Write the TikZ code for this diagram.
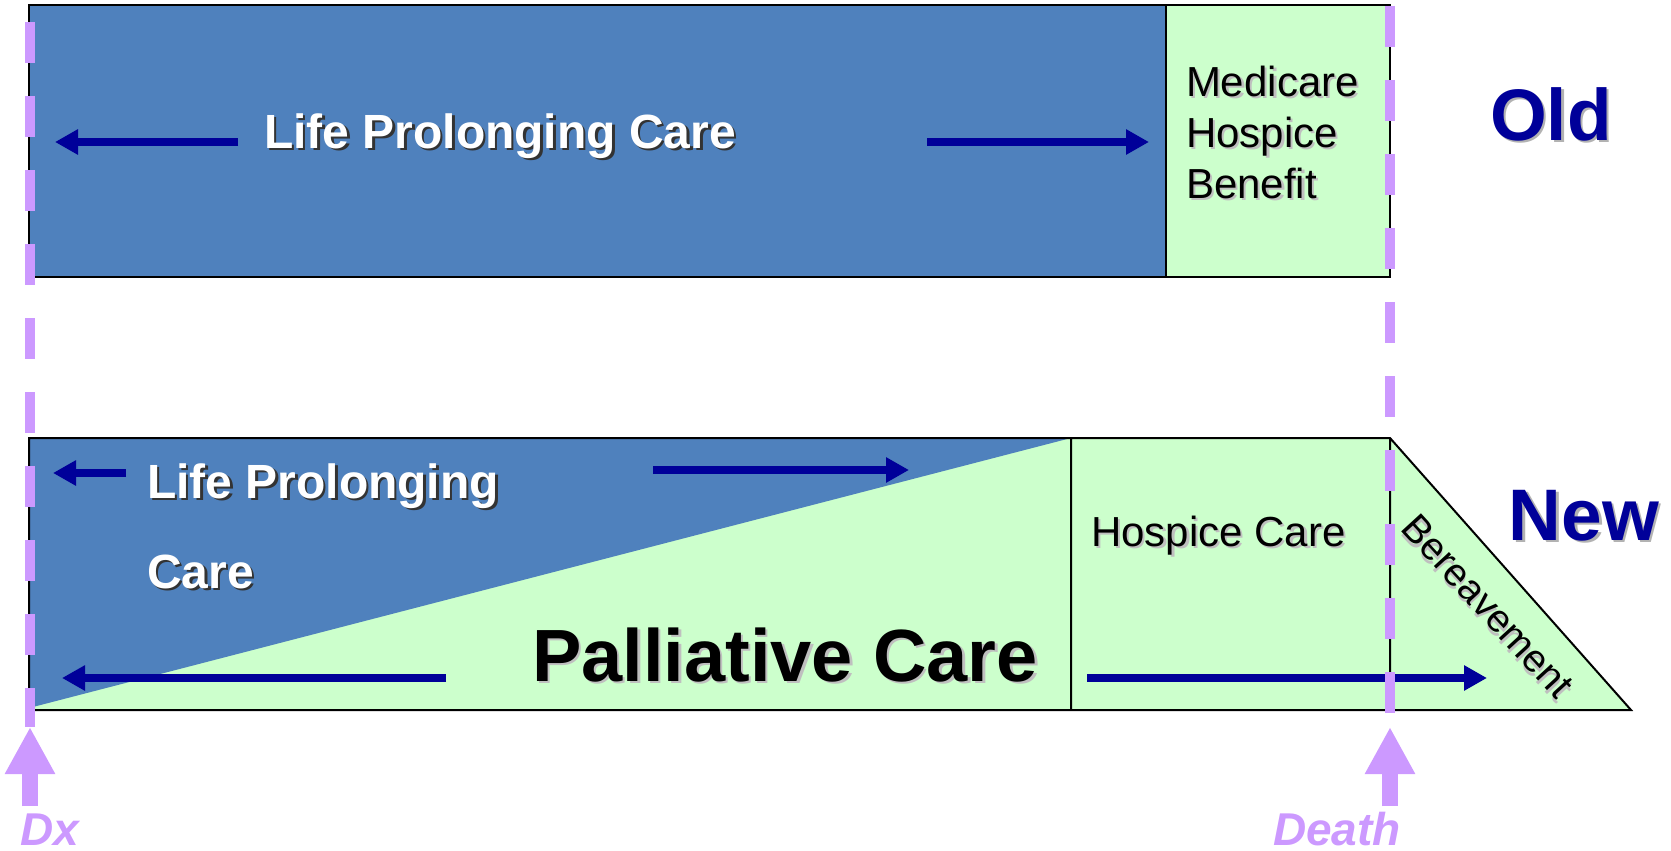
\documentclass[tikz,border=0pt]{standalone}
\usepackage{fontspec}
\setmainfont{Liberation Sans}
\usetikzlibrary{arrows.meta}
\definecolor{lifeblue}{RGB}{79,129,189}
\definecolor{palegreen}{RGB}{204,255,204}
\definecolor{navy}{RGB}{0,0,153}
\definecolor{lilac}{RGB}{204,153,255}
\newcommand{\shad}[2][black!80]{\makebox[0pt][l]{\kern2.5pt\raisebox{-2.5pt}{\textcolor{#1}{#2}}}#2}
\tikzset{
  edge/.style={black,line width=2pt},
  care/.style={-{Triangle[length=23pt,width=24pt]},navy,line width=8pt},
  marker/.style={-{Triangle[length=47pt,width=47pt]},lilac,line width=16pt},
  timeline/.style={lilac,line width=10.5pt,dash pattern=on 41pt off 33pt},
  lbl/.style={inner sep=0pt,outer sep=0pt},
  lifetxt/.style={lbl,anchor=base west,text=white,font=\bfseries\fontsize{48}{58}\selectfont},
  plaintxt/.style={lbl,text=black,font=\fontsize{42}{51}\selectfont},
  eratxt/.style={lbl,anchor=base,text=navy,font=\bfseries\fontsize{73}{80}\selectfont},
  eventtxt/.style={lbl,anchor=base west,text=lilac,font=\bfseries\itshape\fontsize{46}{50}\selectfont},
}
\begin{document}
\begin{tikzpicture}[x=1pt,y=-1pt]
  \useasboundingbox (0,0) rectangle (1671,851);
  \fill[lifeblue] (29,5) rectangle (1166,277);
  \fill[palegreen] (1166,5) rectangle (1390,277);
  \draw[edge] (29,5) rectangle (1390,277) (1166,5) -- (1166,277);
  \fill[palegreen] (29,438) rectangle (1390,710);
  \fill[palegreen] (1390,438) -- (1631,710) -- (1390,710) -- cycle;
  \fill[lifeblue] (29,438) -- (1071,438) -- (29,708) -- cycle;
  \draw[edge] (1631,710) -- (29,710) -- (29,438) -- (1390,438) -- cycle
    (1071,438) -- (1071,710) (1390,438) -- (1390,710);
  \node[lifetxt] (oldlife) at (264,148) {\shad{Life Prolonging Care}};
  \node[plaintxt,anchor=north west,align=left] (benefit) at (1186,66)
    {\shad[black!25]{Medicare}\\\shad[black!25]{Hospice}\\\shad[black!25]{Benefit}};
  \node[eratxt] (old) at (1551,140) {\shad[black!30]{Old}};
  \node[lifetxt] (newlife) at (147,498) {\shad{Life Prolonging}};
  \node[lifetxt] (newcare) at (147,588) {\shad{Care}};
  \node[lbl,anchor=base,font=\bfseries\fontsize{74}{80}\selectfont] (palliative) at (785,681) {\shad[black!25]{Palliative Care}};
  \node[plaintxt,anchor=base west] (hospice) at (1091,546) {\shad[black!25]{Hospice Care}};
  \node[plaintxt,font=\fontsize{39}{47}\selectfont,rotate=-47.5] (bereave) at (1487,607) {\shad[black!25]{Bereavement}};
  \node[eratxt] (new) at (1584,540) {\shad[black!30]{New}};
  \node[eventtxt] (dx) at (20,845) {Dx};
  \node[eventtxt] (death) at (1273,845) {Death};
  \coordinate (oldL) at (55,142);
  \coordinate (oldLt) at (238,142);
  \coordinate (oldRt) at (927,142);
  \coordinate (oldR) at (1149,142);
  \coordinate (newL) at (53,473);
  \coordinate (newLt) at (126,473);
  \coordinate (newRt) at (653,470);
  \coordinate (newR) at (909,470);
  \coordinate (palL) at (62,678);
  \coordinate (palLt) at (446,678);
  \coordinate (palRt) at (1087,678);
  \coordinate (palR) at (1487,678);
  \begin{scope}[care]
    \draw (oldLt) to (oldL);
    \draw (oldRt) to (oldR);
    \draw (newLt) to (newL);
    \draw (newRt) to (newR);
    \draw (palLt) to (palL);
    \draw (palRt) to (palR);
  \end{scope}
  \coordinate (dxtop) at (30,22);
  \coordinate (dxbot) at (30,727);
  \coordinate (deathtop) at (1390,6);
  \coordinate (deathbot) at (1390,713);
  \draw[timeline] (dxtop) -- (dxbot);
  \draw[timeline] (deathtop) -- (deathbot);
  \draw[marker] (30,806) -- (30,727);
  \draw[marker] (1390,806) -- (1390,727);
\end{tikzpicture}
\end{document}
